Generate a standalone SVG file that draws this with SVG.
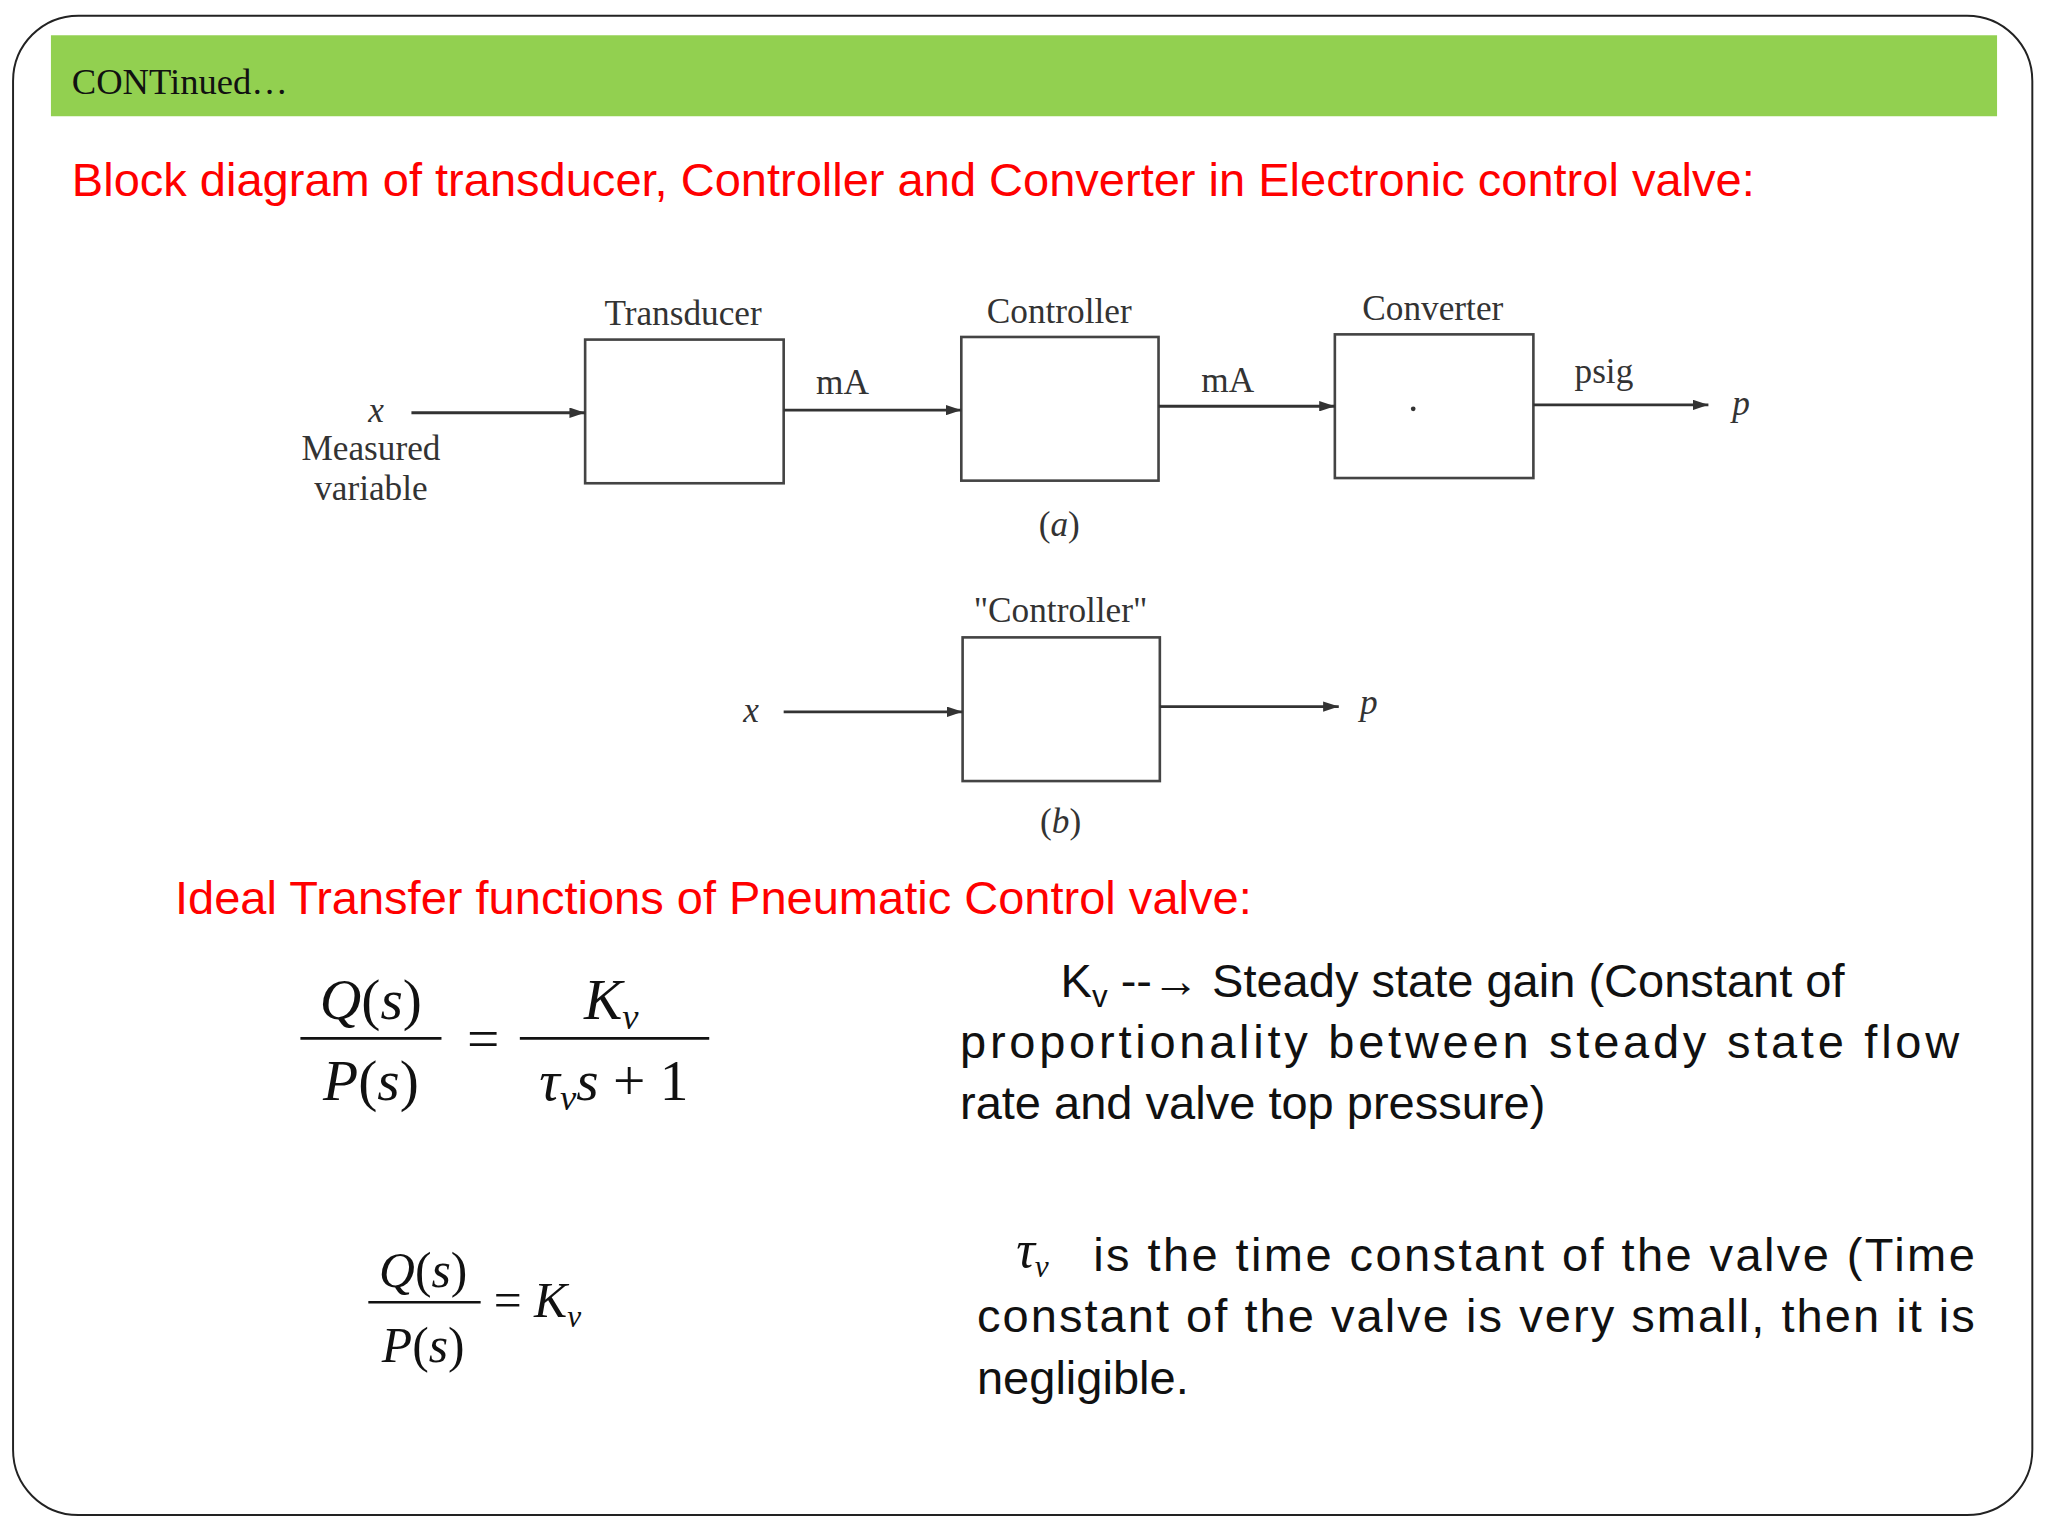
<svg xmlns="http://www.w3.org/2000/svg" width="2048" height="1536" viewBox="0 0 2048 1536">
<defs>
<marker id="ah" markerWidth="12" markerHeight="8" refX="12" refY="4" orient="auto" markerUnits="userSpaceOnUse"><path d="M0,0 L12,4 L0,8 Z" fill="#333"/></marker>
<style>
.bx{fill:#fff;stroke:#444;stroke-width:2}
.ln{stroke:#333;stroke-width:2.2;fill:none;marker-end:url(#ah)}
.lb{font-family:"Liberation Serif",serif;font-size:27px;fill:#333;text-anchor:middle}
.it{font-style:italic}
.red{font-family:"Liberation Sans",sans-serif;font-size:36px;fill:#ff0000}
.bk{font-family:"Liberation Sans",sans-serif;font-size:36px;fill:#111}
.m{font-family:"Liberation Serif",serif;fill:#111;text-anchor:middle}
</style>
</defs>
<rect width="2048" height="1536" fill="#fff"/>
<g transform="scale(1.30612)">
<rect x="10" y="12" width="1546" height="1148" rx="50" fill="#fff" stroke="#222" stroke-width="1.5"/>
<rect x="39" y="27" width="1490" height="62" fill="#92d050"/>
<text x="55" y="72" font-family="Liberation Serif,serif" font-size="28" fill="#111">CONTinued…</text>
<text class="red" x="55" y="150">Block diagram of transducer, Controller and Converter in Electronic control valve:</text>
<g id="transducer"><rect class="bx" x="448" y="260" width="152" height="110"/><text class="lb" x="523" y="249">Transducer</text></g>
<g id="controller"><rect class="bx" x="736" y="258" width="151" height="110"/><text class="lb" x="811" y="247">Controller</text></g>
<g id="converter"><rect class="bx" x="1022" y="256" width="152" height="110"/><text class="lb" x="1097" y="245">Converter</text><circle cx="1082" cy="313" r="1.8" fill="#333"/></g>
<g id="controller-b"><rect class="bx" x="737" y="488" width="151" height="110"/><text class="lb" x="812" y="476">"Controller"</text></g>
<g id="connectors">
<line class="ln" x1="315" y1="316" x2="448" y2="316"/>
<line class="ln" x1="600" y1="314" x2="736" y2="314"/>
<line class="ln" x1="887" y1="311" x2="1022" y2="311"/>
<line class="ln" x1="1174" y1="310" x2="1308" y2="310"/>
<line class="ln" x1="600" y1="545" x2="737" y2="545"/>
<line class="ln" x1="888" y1="541" x2="1025" y2="541"/>
</g>
<text class="lb" x="645" y="302">mA</text>
<text class="lb" x="940" y="300">mA</text>
<text class="lb" x="1228" y="293">psig</text>
<text class="lb it" x="1333" y="318">p</text>
<text class="lb it" x="288" y="323">x</text>
<text class="lb" x="284" y="352">Measured</text>
<text class="lb" x="284" y="383">variable</text>
<text class="lb" x="811" y="410">(<tspan class="it">a</tspan>)</text>
<text class="lb it" x="575" y="553">x</text>
<text class="lb it" x="1048" y="547">p</text>
<text class="lb" x="812" y="638">(<tspan class="it">b</tspan>)</text>
<text class="red" x="134" y="700">Ideal Transfer functions of Pneumatic Control valve:</text>
<g id="eq1">
<line x1="230" y1="795" x2="338" y2="795" stroke="#111" stroke-width="2"/>
<text class="m" x="284" y="780" font-size="44"><tspan font-style="italic">Q</tspan>(<tspan font-style="italic">s</tspan>)</text>
<text class="m" x="284" y="842" font-size="44"><tspan font-style="italic">P</tspan>(<tspan font-style="italic">s</tspan>)</text>
<text class="m" x="370" y="810" font-size="44">=</text>
<line x1="398" y1="795" x2="543" y2="795" stroke="#111" stroke-width="2"/>
<text class="m" x="468" y="780" font-size="44"><tspan font-style="italic">K</tspan><tspan font-style="italic" font-size="28" dy="8">v</tspan></text>
<text class="m" x="470" y="842" font-size="44"><tspan font-style="italic">τ</tspan><tspan font-style="italic" font-size="28" dy="8">v</tspan><tspan font-style="italic" dy="-8">s</tspan> + 1</text>
</g>
<g id="eq2">
<line x1="282" y1="997" x2="368" y2="997" stroke="#111" stroke-width="2"/>
<text class="m" x="324" y="985" font-size="38"><tspan font-style="italic">Q</tspan>(<tspan font-style="italic">s</tspan>)</text>
<text class="m" x="324" y="1043" font-size="38"><tspan font-style="italic">P</tspan>(<tspan font-style="italic">s</tspan>)</text>
<text x="378" y="1008" font-family="Liberation Serif,serif" font-size="38" fill="#111">= <tspan font-style="italic">K</tspan><tspan font-style="italic" font-size="24" dy="8">v</tspan></text>
</g>
<text class="bk" x="812" y="763">K<tspan font-size="24" dy="8">v</tspan><tspan dy="-8"> --→ Steady state gain (Constant of</tspan></text>
<text class="bk" x="735" y="810" textLength="765" lengthAdjust="spacing">proportionality between steady state flow</text>
<text class="bk" x="735" y="857">rate and valve top pressure)</text>
<text x="778" y="970" font-family="Liberation Serif,serif" font-size="40" font-style="italic" fill="#111">τ<tspan font-size="24" dy="8">v</tspan></text>
<text class="bk" x="837" y="973" textLength="675" lengthAdjust="spacing">is the time constant of the valve (Time</text>
<text class="bk" x="748" y="1020" textLength="764" lengthAdjust="spacing">constant of the valve is very small, then it is</text>
<text class="bk" x="748" y="1067">negligible.</text>
</g>
</svg>
